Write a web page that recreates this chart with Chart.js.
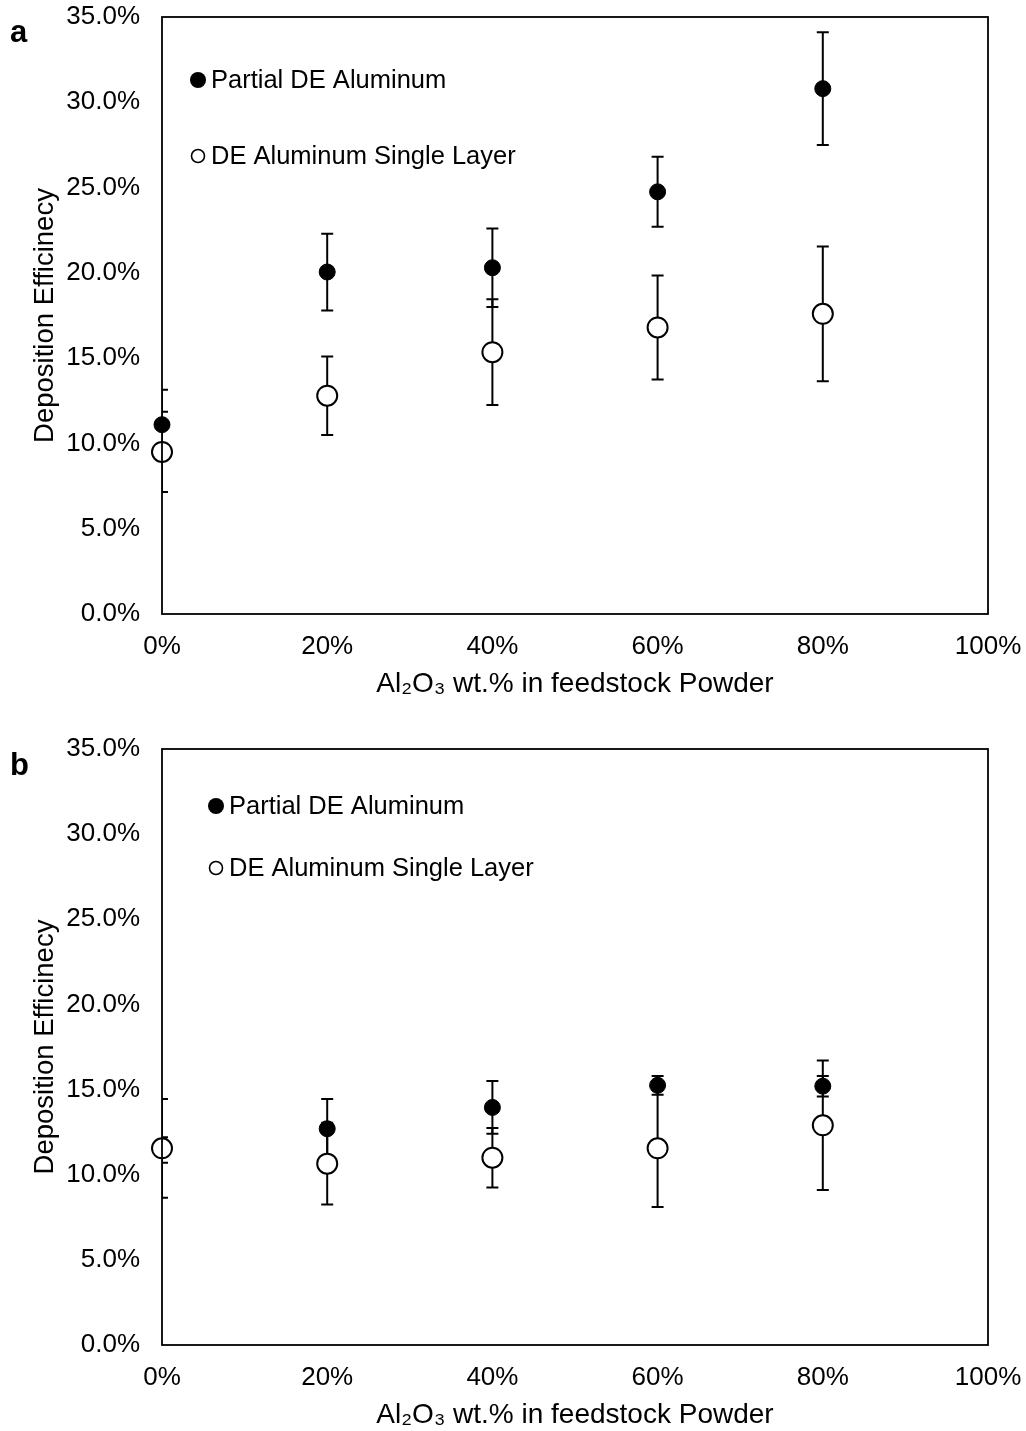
<!DOCTYPE html>
<html>
<head>
<meta charset="utf-8">
<script src="https://cdn.jsdelivr.net/npm/chart.js@4.4.0/dist/chart.umd.min.js"></script>
<style>
  html, body { margin: 0; padding: 0; background: #fff; }
  canvas { display: block; }
</style>
</head>
<body>
<canvas id="chartA" width="1026" height="700"></canvas>
<canvas id="chartB" width="1026" height="731"></canvas>
<script>
// Al2O3 content of the feedstock powder (wt.%)
const feedstockPct = [0, 20, 40, 60, 80];
const xTicks = [0, 20, 40, 60, 80, 100];
const yTicks = [0, 5, 10, 15, 20, 25, 30, 35];

// Panel a: deposition efficiency (%) and error half-widths
const partialA    = [11.1, 20.05, 20.3, 24.75, 30.8];
const partialAErr = [2.05, 2.25, 2.3, 2.05, 3.3];
const singleA     = [9.5, 12.8, 15.35, 16.8, 17.6];
const singleAErr  = [2.35, 2.3, 3.1, 3.05, 3.95];

// Panel b: deposition efficiency (%) and error half-widths
const partialB    = [11.45, 12.7, 13.95, 15.25, 15.2];
const partialBErr = [0.75, 1.75, 1.55, 0.55, 0.6];
const singleB     = [11.55, 10.65, 11.0, 11.55, 12.9];
const singleBErr  = [2.9, 2.4, 1.75, 3.45, 3.8];

const seriesNames = ['Partial DE Aluminum', 'DE Aluminum Single Layer'];

const FONT = '"Liberation Sans", Arial, Helvetica, sans-serif';

function points(values) {
  return feedstockPct.map((x, i) => ({ x: x, y: values[i] }));
}

function noScalePadding(s) {
  s.paddingTop = 0; s.paddingBottom = 0; s.paddingLeft = 0; s.paddingRight = 0;
}

// Vertical error bars with caps, drawn just beneath each dataset's markers
const errorBars = {
  id: 'errorBars',
  beforeDatasetDraw(chart, args) {
    const ds = chart.data.datasets[args.index];
    if (!ds.errors) return;
    const { ctx, chartArea, scales } = chart;
    ctx.save();
    ctx.beginPath();
    ctx.rect(chartArea.left, chartArea.top, chartArea.right - chartArea.left, chartArea.bottom - chartArea.top);
    ctx.clip();
    ctx.strokeStyle = '#000';
    ctx.lineWidth = 2;
    ds.data.forEach((pt, i) => {
      const e = ds.errors[i];
      const px = scales.x.getPixelForValue(pt.x);
      const yHi = scales.y.getPixelForValue(pt.y + e);
      const yLo = scales.y.getPixelForValue(pt.y - e);
      ctx.beginPath();
      ctx.moveTo(px, yHi); ctx.lineTo(px, yLo);
      ctx.moveTo(px - 6, yHi); ctx.lineTo(px + 6, yHi);
      ctx.moveTo(px - 6, yLo); ctx.lineTo(px + 6, yLo);
      ctx.stroke();
    });
    ctx.restore();
  }
};

// Plot frame, in-plot legend and panel letter
const decorations = {
  id: 'decorations',
  afterDatasetsDraw(chart, args, opts) {
    const { ctx, chartArea } = chart;
    ctx.save();
    ctx.strokeStyle = '#000';
    ctx.lineWidth = 1.8;
    ctx.strokeRect(chartArea.left, chartArea.top, chartArea.right - chartArea.left, chartArea.bottom - chartArea.top);

    ctx.font = '25.5px ' + FONT;
    ctx.fillStyle = '#000';
    ctx.textBaseline = 'middle';
    ctx.textAlign = 'left';
    const L = opts.legend;
    // filled marker
    ctx.beginPath();
    ctx.arc(L.x, L.y1, 8, 0, Math.PI * 2);
    ctx.fill();
    ctx.fillText(seriesNames[0], L.x + 13, L.y1 + 1);
    // open marker
    ctx.beginPath();
    ctx.lineWidth = 1.6;
    ctx.arc(L.x, L.y2, 6.5, 0, Math.PI * 2);
    ctx.stroke();
    ctx.fillText(seriesNames[1], L.x + 13, L.y2 + 1);

    ctx.font = 'bold 31px ' + FONT;
    ctx.fillText(opts.letter, opts.letterX, opts.letterY);
    ctx.restore();
  }
};

function makeChart(id, partial, partialErr, single, singleErr, topPad, deco) {
  return new Chart(document.getElementById(id), {
    type: 'scatter',
    data: {
      datasets: [
        {
          label: seriesNames[0],
          data: points(partial),
          errors: partialErr,
          pointRadius: 8,
          pointBackgroundColor: '#000',
          pointBorderColor: '#000',
          pointBorderWidth: 1,
          clip: false,
          order: 1
        },
        {
          label: seriesNames[1],
          data: points(single),
          errors: singleErr,
          pointRadius: 10,
          pointBackgroundColor: '#fff',
          pointBorderColor: '#000',
          pointBorderWidth: 2,
          clip: false,
          order: 0
        }
      ]
    },
    options: {
      responsive: false,
      animation: false,
      layout: { padding: { left: 0, right: 38, top: topPad, bottom: 0 } },
      plugins: {
        legend: { display: false },
        tooltip: { enabled: false },
        decorations: deco
      },
      scales: {
        x: {
          type: 'linear',
          min: 0, max: 100,
          afterFit(s) { s.height = 86; noScalePadding(s); },
          afterBuildTicks(s) { s.ticks = xTicks.map(v => ({ value: v })); },
          grid: { display: false, drawTicks: false },
          border: { display: false },
          ticks: {
            color: '#000',
            padding: 17,
            font: { family: FONT, size: 26 },
            callback: v => v + '%'
          },
          title: {
            display: true,
            text: 'Al\u2082O\u2083 wt.% in feedstock Powder',
            color: '#000',
            font: { family: FONT, size: 28 },
            padding: { top: 0, bottom: -1 }
          }
        },
        y: {
          type: 'linear',
          min: 0, max: 35,
          afterFit(s) { s.width = 162; noScalePadding(s); },
          afterBuildTicks(s) { s.ticks = yTicks.map(v => ({ value: v })); },
          grid: { display: false, drawTicks: false },
          border: { display: false },
          ticks: {
            color: '#000',
            padding: 22,
            font: { family: FONT, size: 26 },
            callback: v => Number(v).toFixed(1) + '%'
          },
          title: {
            display: true,
            text: 'Deposition Efficinecy',
            color: '#000',
            font: { family: FONT, size: 27.5 },
            padding: { top: 29, bottom: 0 }
          }
        }
      }
    },
    plugins: [errorBars, decorations]
  });
}

makeChart('chartA', partialA, partialAErr, singleA, singleAErr, 17,
  { legend: { x: 198, y1: 80, y2: 156 }, letter: 'a', letterX: 10, letterY: 33 });
makeChart('chartB', partialB, partialBErr, singleB, singleBErr, 49,
  { legend: { x: 216, y1: 106, y2: 168 }, letter: 'b', letterX: 10, letterY: 66 });
</script>
</body>
</html>
